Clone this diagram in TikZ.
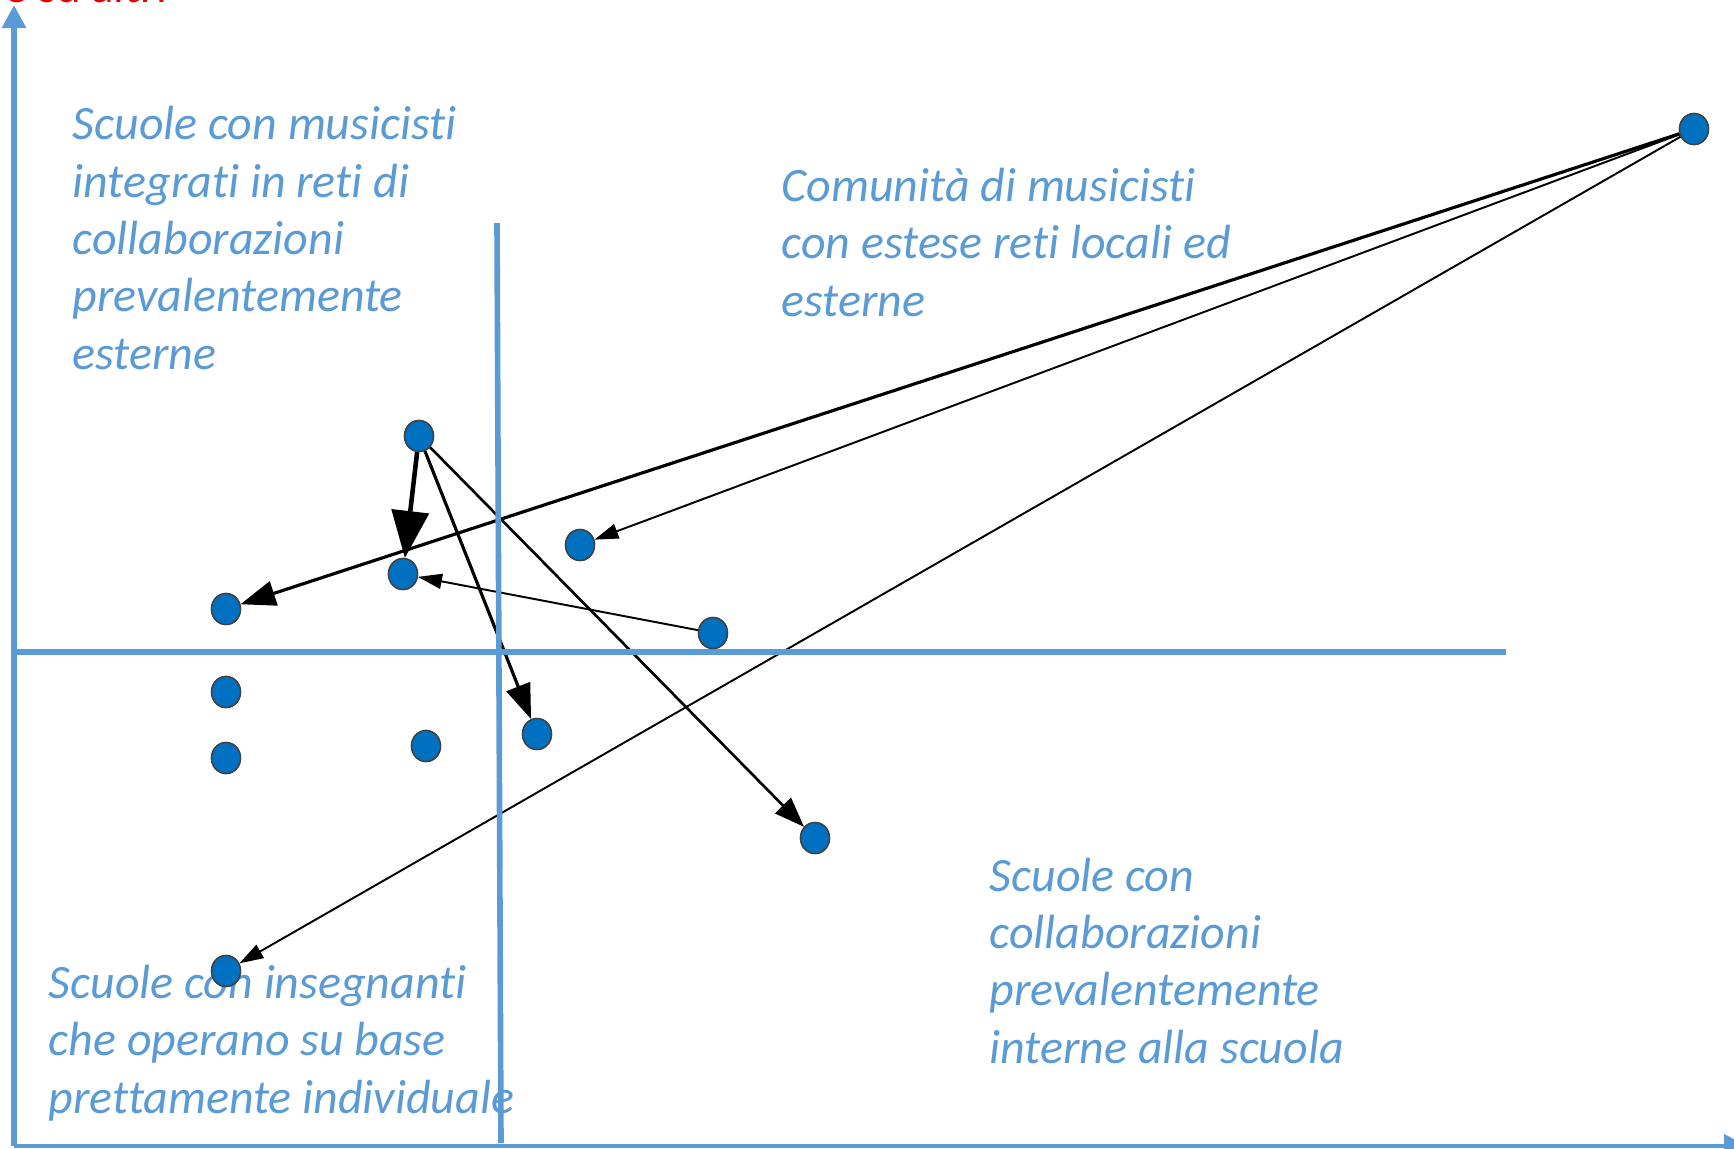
\documentclass[tikz,border=0pt]{standalone}
\usepackage{fontspec}
\setmainfont{Carlito}[Ligatures=NoCommon]
\usepackage{xcolor}
\usepackage{tikz}
\usetikzlibrary{arrows.meta,shapes.geometric}

\definecolor{axisblue}{RGB}{91,155,213}
\definecolor{dotblue}{RGB}{0,112,192}
\definecolor{titlered}{RGB}{230,0,0}

\begin{document}
\begin{tikzpicture}[
  axis/.style={draw=axisblue, line width=1.6pt},
  dot/.style={draw=black!75, ellipse, fill=dotblue, line width=0.4pt, inner sep=0pt, minimum width=0.29cm, minimum height=0.31cm},
  quadtext/.style={anchor=base west, inner sep=0pt, align=left, text=axisblue, font=\fontsize{13.65}{16.3}\selectfont\itshape},
  thinlink/.style={-{Triangle[length=0.24cm, width=0.15cm]}, line width=0.55pt},
  midlink/.style={-{Triangle[length=0.3cm, width=0.22cm]}, line width=0.75pt},
  thicklink/.style={-{Triangle[length=0.35cm, width=0.25cm]}, line width=0.9pt},
  biglink/.style={-{Triangle[length=0.47cm, width=0.37cm]}, line width=1.3pt}
]
\clip (0,0) rectangle (17.34,-11.48);

% Title (cut off at the top)
\node[anchor=base east, inner sep=0pt, text=titlered, font=\fontsize{13.3}{16.3}\selectfont] (title) at (1.68,-0.02) {e su altri};

% Quadrant texts (anchored at the baseline of their last line)
\node[quadtext] (txtnw) at (0.72,-3.69) {Scuole con musicisti\\integrati in reti di\\collaborazioni\\prevalentemente\\esterne};
\node[quadtext] (txtne) at (7.81,-3.16) {Comunità di musicisti\\con estese reti locali ed\\esterne};
\node[quadtext] (txtse) at (9.89,-10.63) {Scuole con\\collaborazioni\\prevalentemente\\interne alla scuola};
\node[quadtext] (txtsw) at (0.48,-11.13) {Scuole con insegnanti\\che operano su base\\prettamente individuale};

% Dots
\node[dot] (d1) at (16.94,-1.29) {};
\node[dot] (d2) at (4.19,-4.36) {};
\node[dot] (d3) at (4.03,-5.74) {};
\node[dot] (d4) at (2.26,-6.09) {};
\node[dot] (d5) at (5.80,-5.45) {};
\node[dot] (d6) at (7.13,-6.33) {};
\node[dot] (d7) at (2.26,-6.92) {};
\node[dot] (d8) at (2.26,-7.58) {};
\node[dot] (d9) at (4.26,-7.46) {};
\node[dot] (d10) at (5.37,-7.34) {};
\node[dot] (d11) at (8.15,-8.38) {};
\node[dot] (d12) at (2.26,-9.71) {};

% Links
\draw[thicklink] (d1) -- (d4);
\draw[thinlink] (d1) -- (d5);
\draw[thinlink] (d1) -- (d12);
\draw[biglink] (d2) -- (d3);
\draw[thicklink] (d2) -- (d10);
\draw[midlink] (d2) -- (d11);
\draw[thinlink] (d6) -- (d3);

% Axes and quadrant lines
\draw[axis, -{Triangle[length=0.23cm, width=0.23cm]}] (0.14,-11.46) -- (0.14,-0.05);
\draw[axis, line width=1.2pt, -{Triangle[length=0.23cm, width=0.23cm]}] (0.14,-11.46) -- (17.47,-11.46);
\draw[axis] (4.97,-2.23) -- (5.01,-11.43);
\draw[axis] (0.14,-6.52) -- (15.06,-6.52);

% Dots on top
\foreach \d in {d1,d2,d3,d4,d5,d6,d7,d8,d9,d10,d11,d12}
  \path[dot] (\d.center) ellipse (0.145cm and 0.155cm);

\end{tikzpicture}
\end{document}
